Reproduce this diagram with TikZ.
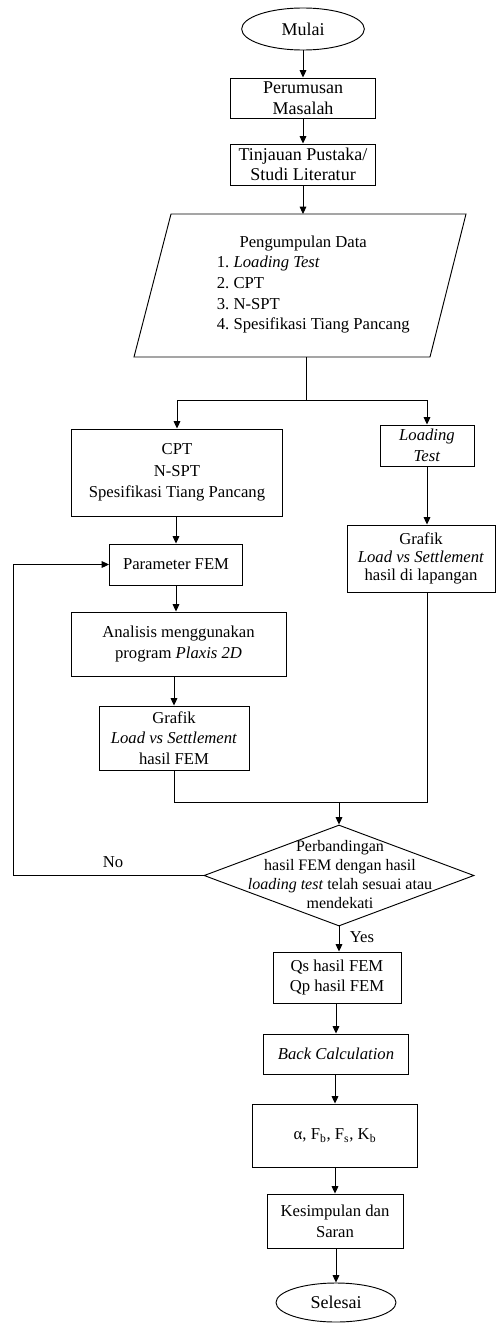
\documentclass[tikz,border=0pt]{standalone}
\usepackage{fontspec}
\setmainfont{Liberation Serif}
\usetikzlibrary{shapes.geometric,arrows.meta}
\frenchspacing

\begin{document}
\begin{tikzpicture}[x=0.75pt,y=-0.75pt,line width=0.7pt,
    >={Triangle[length=5.5pt,width=5pt]},
    every node/.style={font=\fontsize{12.5}{15.5}\selectfont},
    big/.style={font=\fontsize{13.5}{15.5}\selectfont},
    box/.style={draw,align=center,inner sep=0pt},
    term/.style={draw,ellipse,inner sep=0pt},
    decision/.style={draw,diamond,inner sep=0pt}]
    \useasboundingbox (0,0) rectangle (496,1324);
    \node[term,big,minimum width=92pt,minimum height=31.5pt] (mulai) at (303,29) {Mulai};
    \node[box,big,minimum width=108.75pt,minimum height=30pt] (perumusan) at (303,98) {Perumusan\\Masalah};
    \node[box,big,minimum width=108.75pt,minimum height=30.75pt] (tinjauan) at (303,164.5) {Tinjauan Pustaka/\\Studi Literatur};
    \coordinate (d1) at (171,214);
    \coordinate (d2) at (466,214);
    \coordinate (d3) at (430,357);
    \coordinate (d4) at (134,357);
    \draw (d1) -- (d2) -- (d3) -- (d4) -- cycle;
    \coordinate (dtop) at (303,214);
    \coordinate (dbot) at (306,357);
    \node[align=left,anchor=west] (data) at (212,284.5) {\hspace{17pt}Pengumpulan Data\\1. \textit{Loading Test}\\2. CPT\\3. N-SPT\\4. Spesifikasi Tiang Pancang};
    \node[box,minimum width=158.25pt,minimum height=65.25pt,font=\fontsize{12.5}{16}\selectfont] (cpt) at (177,472.5) {CPT\\N-SPT\\Spesifikasi Tiang Pancang};
    \node[box,minimum width=70.5pt,minimum height=30.75pt] (loading) at (427,445.5) {\textit{Loading}\\\textit{Test}};
    \node[box,minimum width=99.75pt,minimum height=30.75pt] (param) at (176,564.5) {Parameter FEM};
    \node[box,minimum width=111pt,minimum height=50.25pt,font=\fontsize{12.5}{13.5}\selectfont] (grafikR) at (421,558.5) {Grafik\\\textit{Load vs Settlement}\\hasil di lapangan};
    \node[box,minimum width=161.25pt,minimum height=48pt] (analisis) at (178.5,644) {Analisis menggunakan\\program \textit{Plaxis 2D}};
    \node[box,minimum width=112.5pt,minimum height=48pt] (grafikF) at (174,738) {Grafik\\\textit{Load vs Settlement}\\hasil FEM};
    \node[decision,minimum width=202.5pt,minimum height=75.75pt] (cmp) at (339,875.5) {};
    \node[align=center,font=\fontsize{12}{14.25}\selectfont] (cmptext) at (340,875) {Perbandingan\\hasil FEM dengan hasil\\\textit{loading test} telah sesuai atau\\mendekati};
    \node[box,minimum width=96pt,minimum height=38.25pt] (qs) at (337,977.5) {Qs hasil FEM\\Qp hasil FEM};
    \node[box,minimum width=108.75pt,minimum height=30pt] (back) at (336,1054) {\textit{Back Calculation}};
    \node[box,minimum width=123.75pt,minimum height=47.25pt] (alpha) at (335,1135.5) {α, F\textsubscript{b}, F\textsubscript{s}, K\textsubscript{b}};
    \node[box,minimum width=102pt,minimum height=40.5pt] (kesimpulan) at (335,1221) {Kesimpulan dan\\Saran};
    \node[term,big,minimum width=90pt,minimum height=29.25pt] (selesai) at (336,1302.5) {Selesai};
    \coordinate (split) at (306,400);
    \coordinate (merge) at (339,802);
    \coordinate (loop) at (13,875.5);
    \draw[->] (mulai) -- (perumusan);
    \draw[->] (perumusan) -- (tinjauan);
    \draw[->] (tinjauan) -- (dtop);
    \draw (dbot) -- (split);
    \draw[->] (split) -| (cpt);
    \draw[->] (split) -| (loading);
    \draw[->] (cpt.south -| param) -- (param);
    \draw[->] (param) -- (param |- analisis.north);
    \draw[->] (analisis.south -| grafikF) -- (grafikF);
    \draw[->] (loading) -- (loading |- grafikR.north);
    \draw (grafikF) |- (merge);
    \draw (loading |- grafikR.south) |- (merge);
    \draw[->] (merge) -- (cmp);
    \draw[->] (cmp.west) -- (loop) |- (param);
    \node (no) at (113,862) {No};
    \draw[->] (cmp.south) -- (cmp.south |- qs.north);
    \node (yes) at (362,937) {Yes};
    \draw[->] (qs.south -| back) -- (back);
    \draw[->] (back.south -| alpha) -- (alpha);
    \draw[->] (alpha) -- (kesimpulan.north -| alpha);
    \draw[->] (kesimpulan.south -| selesai) -- (selesai);
\end{tikzpicture}
\end{document}
